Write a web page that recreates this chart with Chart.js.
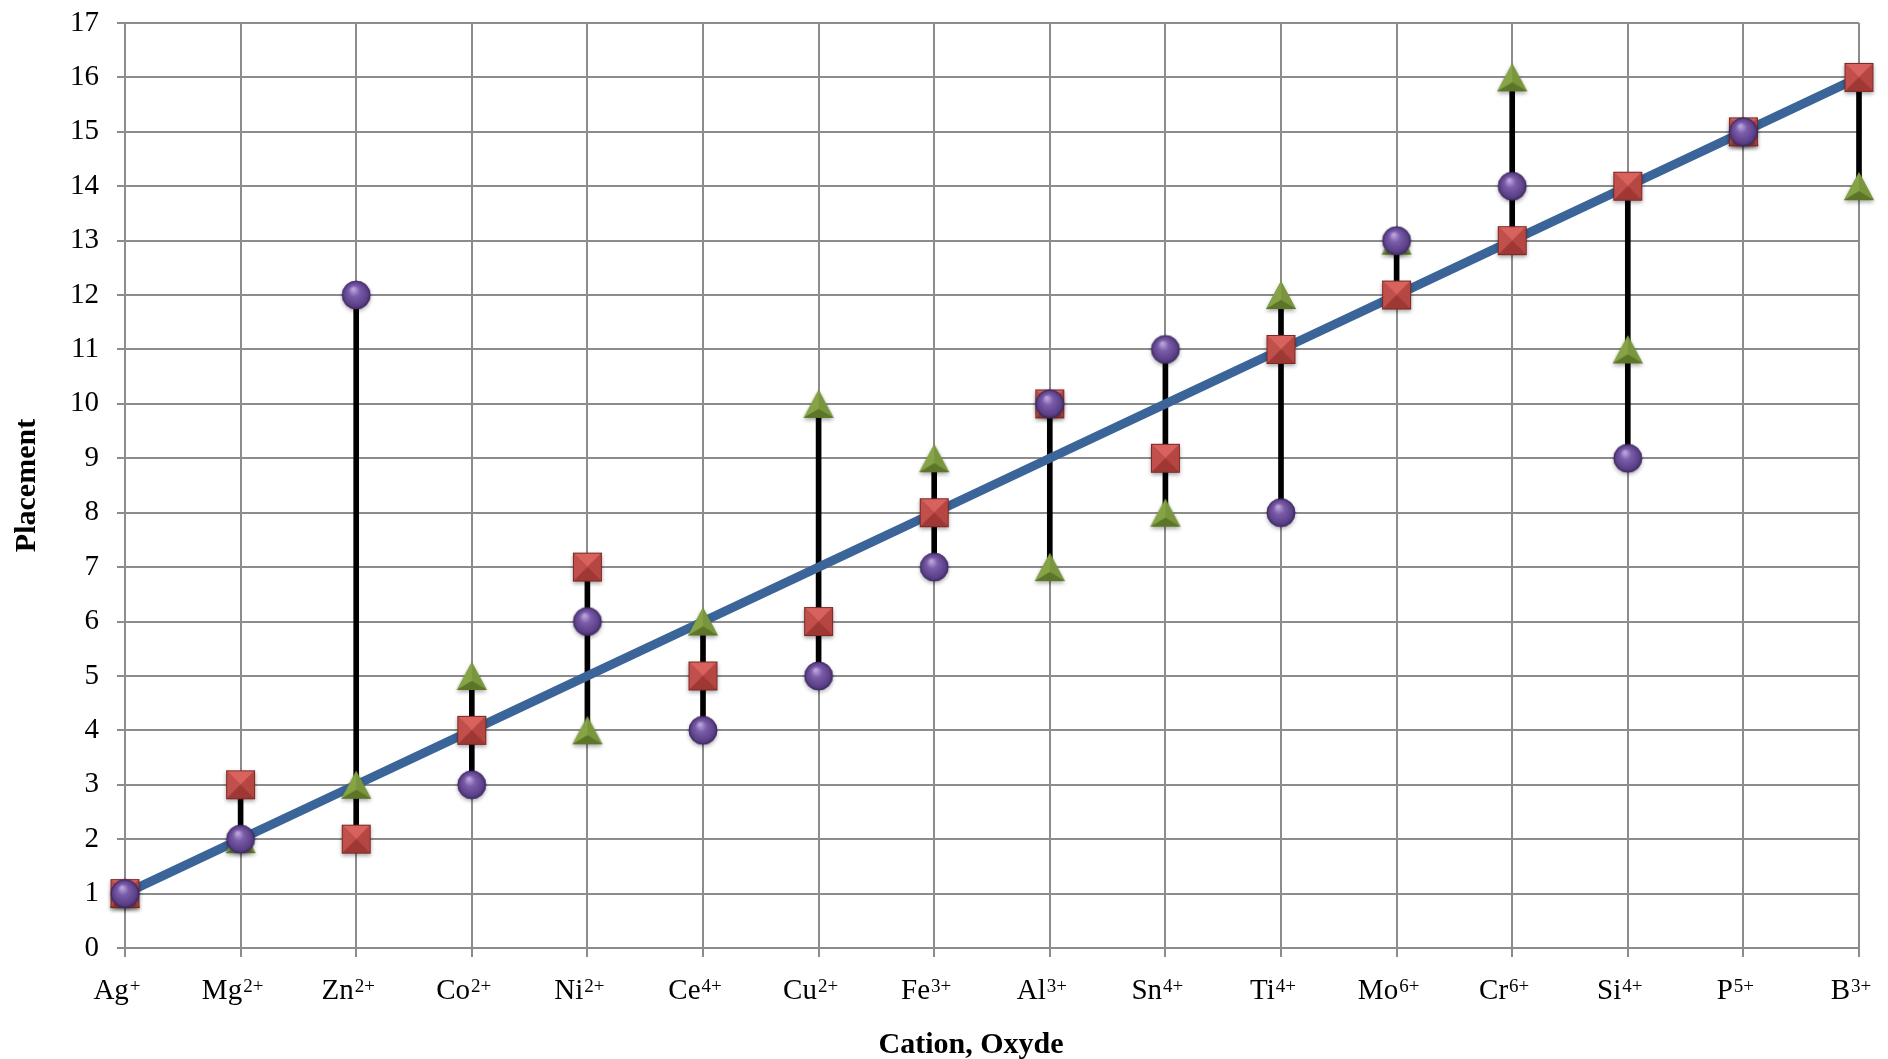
<!DOCTYPE html>
<html>
<head>
<meta charset="utf-8">
<script src="https://cdn.jsdelivr.net/npm/chart.js@4.4.1/dist/chart.umd.min.js"></script>
<style>
  html, body { margin: 0; padding: 0; background: #fff; }
</style>
</head>
<body>
<canvas id="chartCanvas" width="1888" height="1059" style="width:1888px;height:1059px"></canvas>
<script>
// categories: element + charge (charge drawn as superscript)
const elements = ["Ag", "Mg", "Zn", "Co", "Ni", "Ce", "Cu", "Fe",
                  "Al", "Sn", "Ti", "Mo", "Cr", "Si", "P", "B"];
const charges  = ["+", "2+", "2+", "2+", "2+", "4+", "2+", "3+",
                  "3+", "4+", "4+", "6+", "6+", "4+", "5+", "3+"];

// diagonal reference line
const ideal = [1, 2, 3, 4, 5, 6, 7, 8, 9, 10, 11, 12, 13, 14, 15, 16];

// the three placement series
const carres    = [1, 3, 2, 4, 7, 5, 6, 8, 10, 9, 11, 12, 13, 14, 15, 16];
const ronds     = [1, 2, 12, 3, 6, 4, 5, 7, 10, 11, 8, 13, 14, 9, 15, null];
const triangles = [1, 2, 3, 5, 4, 6, 10, 9, 7, 8, 12, 13, 16, 11, 15, 14];

// y axis
const yMin = 0;
const yMax = 17;
const yStep = 1;

const cations = elements.map((e, i) => e + charges[i]);

// high-low lines: min / max of every series per cation
const hautBas = cations.map((c, i) => {
  const v = [ideal[i], carres[i], ronds[i], triangles[i]].filter(x => x !== null);
  return [Math.min(...v), Math.max(...v)];
});

function facette(g, pts, couleur) {
  g.beginPath();
  g.moveTo(pts[0][0], pts[0][1]);
  for (let k = 1; k < pts.length; k++) g.lineTo(pts[k][0], pts[k][1]);
  g.closePath();
  g.fillStyle = couleur;
  g.fill();
}

function marqueCarre() {
  const s = 29, pad = 7;
  const c = document.createElement("canvas");
  c.width = c.height = s + 2 * pad;
  const g = c.getContext("2d");
  g.shadowColor = "rgba(0,0,0,0.35)";
  g.shadowBlur = 4;
  g.shadowOffsetY = 2;
  g.fillStyle = "#a33b37";
  g.fillRect(pad, pad, s, s);
  g.shadowColor = "transparent";
  const x0 = pad, y0 = pad, x1 = pad + s, y1 = pad + s, cx = pad + s / 2, cy = pad + s / 2;
  facette(g, [[x0, y0], [x1, y0], [cx, cy]], "#d8625d");
  facette(g, [[x0, y0], [x0, y1], [cx, cy]], "#c14f4b");
  facette(g, [[x1, y0], [x1, y1], [cx, cy]], "#b64642");
  facette(g, [[x0, y1], [x1, y1], [cx, cy]], "#9f3834");
  g.strokeStyle = "#7a2926";
  g.lineWidth = 1;
  g.strokeRect(pad + 0.5, pad + 0.5, s - 1, s - 1);
  return c;
}

function marqueRond() {
  const r = 14, pad = 7;
  const c = document.createElement("canvas");
  c.width = c.height = 2 * r + 2 * pad;
  const g = c.getContext("2d");
  const cx = pad + r, cy = pad + r;
  g.shadowColor = "rgba(0,0,0,0.35)";
  g.shadowBlur = 4;
  g.shadowOffsetY = 2;
  const grad = g.createRadialGradient(cx - 3, cy - 6, 1, cx, cy, r);
  grad.addColorStop(0, "#b9a3da");
  grad.addColorStop(0.35, "#7b5caa");
  grad.addColorStop(0.85, "#5a3f86");
  grad.addColorStop(1, "#3f2966");
  g.beginPath();
  g.arc(cx, cy, r, 0, Math.PI * 2);
  g.fillStyle = grad;
  g.fill();
  g.shadowColor = "transparent";
  g.strokeStyle = "#3f2a62";
  g.lineWidth = 1;
  g.stroke();
  return c;
}

function marqueTriangle() {
  const w = 30, h = 28, pad = 7;
  const c = document.createElement("canvas");
  c.width = w + 2 * pad;
  c.height = h + 2 * pad;
  const g = c.getContext("2d");
  const top = [pad + w / 2, pad], bl = [pad, pad + h], br = [pad + w, pad + h];
  const ctr = [pad + w / 2, pad + h * 0.68];
  g.shadowColor = "rgba(0,0,0,0.35)";
  g.shadowBlur = 4;
  g.shadowOffsetY = 2;
  facette(g, [top, bl, br], "#667f30");
  g.shadowColor = "transparent";
  facette(g, [top, bl, ctr], "#86a345");
  facette(g, [top, br, ctr], "#7a963d");
  facette(g, [bl, br, ctr], "#5c7529");
  return c;
}

const police = "'Liberation Serif', 'Times New Roman', serif";
const gris = "#8c8c8c";

// x tick labels with superscript charges, and the x axis title
const etiquettes = {
  id: "etiquettes",
  afterDraw(chart) {
    const g = chart.ctx;
    const sx = chart.scales.x;
    g.save();
    g.fillStyle = "#000";
    g.textBaseline = "alphabetic";
    g.textAlign = "left";
    elements.forEach((el, i) => {
      const x = sx.getPixelForValue(i);
      g.font = "29px " + police;
      const wb = g.measureText(el).width;
      g.font = "19px " + police;
      const wc = g.measureText(charges[i]).width;
      const x0 = x - 8 - (wb + wc + 1) / 2;
      g.font = "29px " + police;
      g.fillText(el, x0, 999);
      g.font = "19px " + police;
      g.fillText(charges[i], x0 + wb + 1, 992);
    });
    g.font = "bold 30px " + police;
    g.textAlign = "center";
    g.fillText("Cation, Oxyde", 971, 1053);
    g.restore();
  }
};

const ctx = document.getElementById("chartCanvas").getContext("2d");
const chart = new Chart(ctx, {
  type: "line",
  data: {
    labels: cations,
    datasets: [
      {
        type: "bar",
        data: hautBas,
        backgroundColor: "#000",
        barThickness: 5,
        clip: false,
        order: 5
      },
      {
        data: ideal,
        borderColor: "#3b6599",
        borderWidth: 9,
        pointRadius: 0,
        tension: 0,
        order: 4
      },
      {
        data: triangles,
        showLine: false,
        pointStyle: marqueTriangle(),
        pointRadius: 14,
        clip: false,
        order: 3
      },
      {
        data: carres,
        showLine: false,
        pointStyle: marqueCarre(),
        pointRadius: 14,
        clip: false,
        order: 2
      },
      {
        data: ronds,
        showLine: false,
        pointStyle: marqueRond(),
        pointRadius: 14,
        clip: false,
        order: 1
      }
    ]
  },
  options: {
    responsive: false,
    animation: false,
    events: [],
    layout: { padding: { left: 0, right: 29, top: 23, bottom: 0 } },
    plugins: { legend: { display: false }, tooltip: { enabled: false } },
    scales: {
      x: {
        type: "category",
        offset: false,
        grid: { color: gris, lineWidth: 2, tickLength: 9, offset: false },
        border: { color: gris, width: 2 },
        ticks: { display: false, autoSkip: false, maxRotation: 0 },
        afterFit(s) { s.height = 111; }
      },
      y: {
        min: yMin,
        max: yMax,
        grid: { color: gris, lineWidth: 2, tickLength: 8 },
        border: { color: gris, width: 2 },
        ticks: {
          stepSize: yStep,
          font: { family: police, size: 29 },
          color: "#000",
          padding: 18
        },
        title: {
          display: true,
          text: "Placement",
          font: { family: police, size: 30, weight: "bold", lineHeight: 1 },
          color: "#000",
          padding: { top: 12, bottom: 0 }
        },
        afterFit(s) {
          s.width = 125;
          s.paddingTop = 0;
          s.paddingBottom = 0;
        }
      }
    }
  },
  plugins: [etiquettes]
});
</script>
</body>
</html>
